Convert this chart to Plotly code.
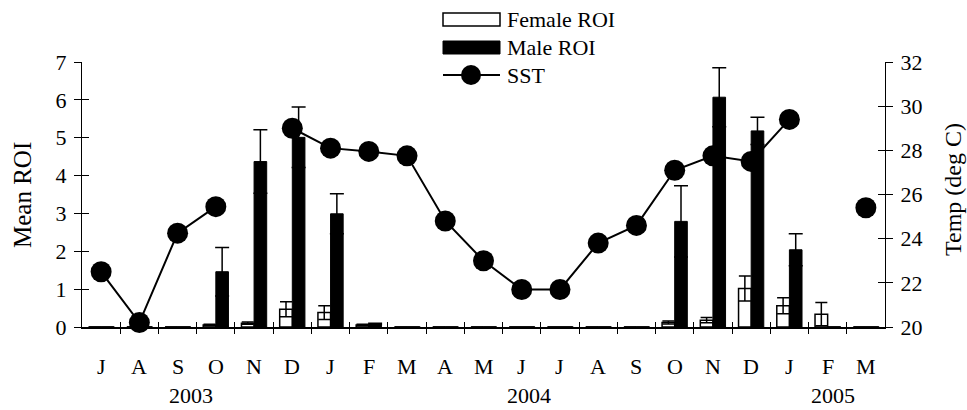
import plotly.graph_objects as go

# Monthly data, July 2003 - March 2005
months = ["J", "A", "S", "O", "N", "D", "J", "F", "M", "A", "M", "J",
          "J", "A", "S", "O", "N", "D", "J", "F", "M"]
years = ["2003", "2004", "2005"]
year_pos = [2.35, 11.2, 19.15]

female_roi = [0, 0, 0, 0.05, 0.10, 0.47, 0.38, 0.05, 0, 0, 0, 0,
              0, 0, 0, 0.12, 0.18, 1.02, 0.56, 0.34, 0]
female_err = [None, None, None, 0.02, 0.03, 0.20, 0.18, 0.02, None, None, None, None,
              None, None, None, 0.04, 0.07, 0.33, 0.21, 0.31, None]
male_roi = [0, 0, 0, 1.46, 4.37, 5.01, 2.99, 0.08, 0, 0, 0, 0,
            0, 0, 0, 2.79, 6.07, 5.18, 2.04, 0, 0]
male_err = [None, None, None, 0.64, 0.84, 0.80, 0.53, 0.02, None, None, None, None,
            None, None, None, 0.94, 0.78, 0.36, 0.42, None, None]
sst = [22.5, 20.2, 24.25, 25.45, None, 29.0, 28.1, 27.95, 27.75, 24.8, 23.0, 21.7,
       21.7, 23.8, 24.6, 27.1, 27.75, 27.5, 29.4, None, 25.4]

x = list(range(len(months)))
bounds = [i + 0.5 for i in range(len(months) - 1)]

FONT = "'Liberation Serif', Tinos, 'Times New Roman', Times, serif"
W, H = 967, 410
L, R, T, B = 82, 82, 62, 83
PW, PH = W - L - R, H - T - B


def px(xp):
    return (xp - L) / PW


def py(yp):
    return (H - B - yp) / PH


fig = go.Figure()

fig.add_trace(go.Bar(
    x=x, y=female_roi, name="Female ROI",
    marker=dict(color="white", line=dict(color="black", width=1.5)),
    error_y=dict(type="data", array=female_err, symmetric=True,
                 color="black", thickness=1.5, width=6),
))
fig.add_trace(go.Bar(
    x=x, y=male_roi, name="Male ROI",
    marker=dict(color="black", line=dict(color="black", width=1)),
    error_y=dict(type="data", array=male_err, symmetric=True,
                 color="black", thickness=1.5, width=7),
))
fig.add_trace(go.Scatter(
    x=x, y=sst, name="SST", yaxis="y2", mode="lines+markers",
    line=dict(color="black", width=2),
    marker=dict(color="black", size=21),
    connectgaps=False, cliponaxis=False,
))

tick_font = dict(family=FONT, size=22, color="black")

fig.update_layout(
    width=W, height=H,
    margin=dict(l=L, r=R, t=T, b=B),
    plot_bgcolor="white", paper_bgcolor="white",
    barmode="group", bargap=0.34, bargroupgap=0,
    showlegend=False,
    font=dict(family=FONT, size=22, color="black"),
    xaxis=dict(
        range=[-0.5, len(months) - 0.5], tickmode="array",
        tickvals=bounds, ticks="outside", ticklen=5, tickwidth=1,
        tickcolor="black", showticklabels=False,
        showline=True, linecolor="black", linewidth=2, showgrid=False,
        zeroline=False,
    ),
    xaxis2=dict(
        overlaying="x", matches="x", side="bottom", tickmode="array",
        tickvals=bounds, ticks="inside", ticklen=5, tickwidth=1,
        tickcolor="black", showticklabels=False, showline=False,
        showgrid=False, zeroline=False,
    ),
    yaxis=dict(
        range=[0, 7], dtick=1, ticks="outside", ticklen=7, tickwidth=1,
        tickcolor="black", tickfont=tick_font, showline=True,
        linecolor="black", linewidth=1, showgrid=False, zeroline=False,
        ticklabelstandoff=3,
    ),
    yaxis3=dict(
        overlaying="y", matches="y", side="left", ticks="inside", ticklen=7,
        tickwidth=1, tickcolor="black", dtick=1, showticklabels=False,
        showline=False, showgrid=False, zeroline=False,
    ),
    yaxis2=dict(
        range=[20, 32], dtick=2, overlaying="y", side="right",
        ticks="outside", ticklen=7, tickwidth=1, tickcolor="black",
        tickfont=tick_font, showline=True, linecolor="black", linewidth=1,
        showgrid=False, zeroline=False, ticklabelstandoff=3,
    ),
    yaxis4=dict(
        range=[20, 32], dtick=2, overlaying="y", side="right",
        ticks="inside", ticklen=7, tickwidth=1, tickcolor="black",
        showticklabels=False, showline=False, showgrid=False, zeroline=False,
    ),
)

# Empty traces so the overlay axes get drawn
fig.add_trace(go.Scatter(x=[None], y=[None], xaxis="x2", yaxis="y3",
                         showlegend=False, hoverinfo="skip"))
fig.add_trace(go.Scatter(x=[None], y=[None], yaxis="y4",
                         showlegend=False, hoverinfo="skip"))

# Month letters and year labels under the axis
for m, pos in zip(months, x):
    fig.add_annotation(x=pos, xref="x", y=py(366), yref="paper", text=m,
                       showarrow=False, font=dict(family=FONT, size=22),
                       xanchor="center", yanchor="middle")
for yr, pos in zip(years, year_pos):
    fig.add_annotation(x=pos, xref="x", y=py(395), yref="paper", text=yr,
                       showarrow=False, font=dict(family=FONT, size=22),
                       xanchor="center", yanchor="middle")

# Axis titles
fig.add_annotation(x=px(22), xref="paper", y=py(195), yref="paper",
                   text="Mean ROI", textangle=-90, showarrow=False,
                   font=dict(family=FONT, size=25), xanchor="center", yanchor="middle")
fig.add_annotation(x=px(953), xref="paper", y=py(189), yref="paper",
                   text="Temp (deg C)", textangle=-90, showarrow=False,
                   font=dict(family=FONT, size=24), xanchor="center", yanchor="middle")

# Legend drawn as shapes with text labels
leg_x0, leg_x1, leg_tx = 443, 500, 505
leg_rows = [19, 47, 75]
fig.add_shape(type="rect", xref="paper", yref="paper",
              x0=px(leg_x0), x1=px(leg_x1), y0=py(leg_rows[0] + 7), y1=py(leg_rows[0] - 6),
              fillcolor="white", line=dict(color="black", width=1.5))
fig.add_shape(type="rect", xref="paper", yref="paper",
              x0=px(leg_x0), x1=px(leg_x1), y0=py(leg_rows[1] + 7), y1=py(leg_rows[1] - 6),
              fillcolor="black", line=dict(color="black", width=1))
fig.add_shape(type="line", xref="paper", yref="paper",
              x0=px(leg_x0), x1=px(leg_x1), y0=py(leg_rows[2]), y1=py(leg_rows[2]),
              line=dict(color="black", width=2))
fig.add_shape(type="circle", xref="paper", yref="paper",
              x0=px(471 - 10), x1=px(471 + 10),
              y0=py(leg_rows[2] + 10), y1=py(leg_rows[2] - 10),
              fillcolor="black", line=dict(color="black", width=0))
for label, ypix in zip(["Female ROI", "Male ROI", "SST"], leg_rows):
    fig.add_annotation(x=px(leg_tx), xref="paper", y=py(ypix), yref="paper",
                       text=label, showarrow=False, xanchor="left", yanchor="middle",
                       font=dict(family=FONT, size=22))

fig.write_html("out.html")
